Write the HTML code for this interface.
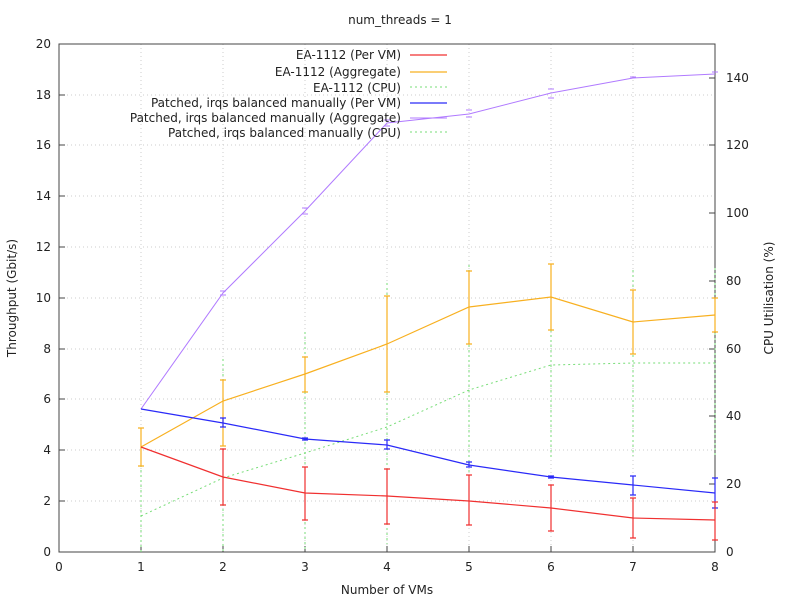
<!DOCTYPE html>
<html><head><meta charset="utf-8"><style>
body{margin:0;background:#fff}
svg text{font-family:"DejaVu Sans","Liberation Sans",sans-serif;font-size:12px;fill:#222}
</style></head><body>
<svg width="800" height="600" xmlns="http://www.w3.org/2000/svg">
<rect width="800" height="600" fill="#fff"/>
<g stroke="#ccc" stroke-width="1" stroke-dasharray="1,3">
<line x1="59" y1="501" x2="715" y2="501"/><line x1="59" y1="450" x2="715" y2="450"/>
<line x1="59" y1="399" x2="715" y2="399"/><line x1="59" y1="349" x2="715" y2="349"/>
<line x1="59" y1="298" x2="715" y2="298"/><line x1="59" y1="247" x2="715" y2="247"/>
<line x1="59" y1="196" x2="715" y2="196"/><line x1="59" y1="145" x2="715" y2="145"/>
<line x1="59" y1="95" x2="715" y2="95"/>
<line x1="141" y1="44" x2="141" y2="552"/><line x1="223" y1="44" x2="223" y2="552"/>
<line x1="305" y1="44" x2="305" y2="552"/><line x1="387" y1="44" x2="387" y2="552"/>
<line x1="469" y1="44" x2="469" y2="552"/><line x1="551" y1="44" x2="551" y2="552"/>
<line x1="633" y1="44" x2="633" y2="552"/>
</g>
<rect x="59" y="44" width="656" height="508" fill="none" stroke="#444" stroke-width="1"/>
<g stroke="#444">
<line x1="59" y1="501" x2="65" y2="501"/><line x1="59" y1="450" x2="65" y2="450"/><line x1="59" y1="399" x2="65" y2="399"/><line x1="59" y1="349" x2="65" y2="349"/><line x1="59" y1="298" x2="65" y2="298"/><line x1="59" y1="247" x2="65" y2="247"/><line x1="59" y1="196" x2="65" y2="196"/><line x1="59" y1="145" x2="65" y2="145"/><line x1="59" y1="95" x2="65" y2="95"/>
<line x1="715" y1="484" x2="709" y2="484"/><line x1="715" y1="416" x2="709" y2="416"/><line x1="715" y1="349" x2="709" y2="349"/><line x1="715" y1="281" x2="709" y2="281"/><line x1="715" y1="213" x2="709" y2="213"/><line x1="715" y1="145" x2="709" y2="145"/><line x1="715" y1="78" x2="709" y2="78"/>
<line x1="141" y1="552" x2="141" y2="546"/><line x1="223" y1="552" x2="223" y2="546"/><line x1="305" y1="552" x2="305" y2="546"/><line x1="387" y1="552" x2="387" y2="546"/><line x1="469" y1="552" x2="469" y2="546"/><line x1="551" y1="552" x2="551" y2="546"/><line x1="633" y1="552" x2="633" y2="546"/>
</g>
<g text-anchor="end">
<text x="51" y="556">0</text><text x="51" y="505">2</text><text x="51" y="454">4</text><text x="51" y="403">6</text><text x="51" y="353">8</text><text x="51" y="302">10</text><text x="51" y="251">12</text><text x="51" y="200">14</text><text x="51" y="149">16</text><text x="51" y="99">18</text><text x="51" y="48">20</text>
</g>
<g>
<text x="726" y="556">0</text><text x="726" y="488">20</text><text x="726" y="420">40</text><text x="726" y="353">60</text><text x="726" y="285">80</text><text x="726" y="217">100</text><text x="726" y="149">120</text><text x="726" y="82">140</text>
</g>
<g text-anchor="middle">
<text x="59" y="571">0</text><text x="141" y="571">1</text><text x="223" y="571">2</text><text x="305" y="571">3</text><text x="387" y="571">4</text><text x="469" y="571">5</text><text x="551" y="571">6</text><text x="633" y="571">7</text><text x="715" y="571">8</text>
<text x="387" y="594">Number of VMs</text>
<text x="400" y="24">num_threads = 1</text>
<text transform="translate(16,298) rotate(-90)">Throughput (Gbit/s)</text>
<text transform="translate(773,298) rotate(-90)">CPU Utilisation (%)</text>
</g>
<g stroke="#7d7" stroke-width="1" stroke-dasharray="2,3" fill="none">
<polyline points="141,516 223,478 305,453 387,427 469,390 551,365 633,363 715,363"/>
<line x1="141" y1="552" x2="141" y2="430"/><line x1="223" y1="359" x2="223" y2="552"/><line x1="305" y1="332" x2="305" y2="552"/><line x1="387" y1="283" x2="387" y2="544"/><line x1="469" y1="265" x2="469" y2="515"/><line x1="551" y1="270" x2="551" y2="457"/><line x1="633" y1="270" x2="633" y2="456"/><line x1="715" y1="268" x2="715" y2="458"/>
</g>
<g stroke="#b07aff" stroke-width="1" fill="none">
<polyline points="141,409 223,293 305,211 387,123 469,114 551,93 633,78 715,74"/>
<path d="M220,291h6M220,295h6M302,208h6M302,214h6M384,120h6M384,126h6M466,110h6M466,117h6M548,89h6M548,98h6M630,77h6M712,72h6"/>
</g>
<g stroke="#f8b020" stroke-width="1.2" fill="none">
<polyline points="141,447 223,401 305,374 387,344 469,307 551,297 633,322 715,315"/>
<path d="M141,428V466M138,428h6M138,466h6M223,380V446M220,380h6M220,446h6M305,357V392M302,357h6M302,392h6M387,296V392M384,296h6M384,392h6M469,271V344M466,271h6M466,344h6M551,264V330M548,264h6M548,330h6M633,290V354M630,290h6M630,354h6M715,298V332M712,298h6M712,332h6"/>
</g>
<g stroke="#2a2af8" stroke-width="1.2" fill="none">
<polyline points="141,409 223,423 305,439 387,445 469,465 551,477 633,485 715,493"/>
<path d="M223,418V427M220,418h6M220,427h6M302,438h6M302,440h6M387,440V449M384,440h6M384,449h6M469,462V467M466,462h6M466,467h6M548,476h6M548,478h6M633,476V495M630,476h6M630,495h6M715,478V508M712,478h6M712,508h6"/>
</g>
<g stroke="#f03030" stroke-width="1.2" fill="none">
<polyline points="141,447 223,477 305,493 387,496 469,501 551,508 633,518 715,520"/>
<path d="M223,449V505M220,449h6M220,505h6M305,467V520M302,467h6M302,520h6M387,469V524M384,469h6M384,524h6M469,475V525M466,475h6M466,525h6M551,485V531M548,485h6M548,531h6M633,498V538M630,498h6M630,538h6M715,502V540M712,502h6M712,540h6"/>
</g>
<g text-anchor="end">
<text x="401" y="59">EA-1112 (Per VM)</text>
<text x="401" y="76">EA-1112 (Aggregate)</text>
<text x="401" y="92">EA-1112 (CPU)</text>
<text x="401" y="107">Patched, irqs balanced manually (Per VM)</text>
<text x="401" y="122">Patched, irqs balanced manually (Aggregate)</text>
<text x="401" y="137">Patched, irqs balanced manually (CPU)</text>
</g>
<line x1="410" y1="55" x2="447" y2="55" stroke="#f03030" stroke-width="1.2"/>
<line x1="410" y1="72" x2="447" y2="72" stroke="#f8b020" stroke-width="1.2"/>
<line x1="410" y1="87" x2="447" y2="87" stroke="#7d7" stroke-dasharray="2,3"/>
<line x1="410" y1="103" x2="447" y2="103" stroke="#2a2af8" stroke-width="1.2"/>
<line x1="410" y1="118" x2="447" y2="118" stroke="#b07aff"/>
<line x1="410" y1="132" x2="447" y2="132" stroke="#7d7" stroke-dasharray="2,3"/>
</svg>
</body></html>
